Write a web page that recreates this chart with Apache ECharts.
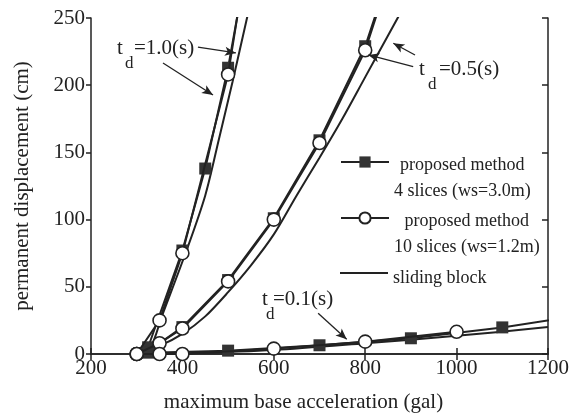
<!DOCTYPE html>
<html>
<head>
<meta charset="utf-8">
<script src="https://cdn.jsdelivr.net/npm/echarts@6/dist/echarts.min.js"></script>
<style>
  html, body { margin: 0; padding: 0; background: #fff; }
  #main { width: 580px; height: 420px; }
</style>
</head>
<body>
<div id="main"></div>
<script>
// proposed method, 4 slices (square markers), one array pair per t_d
const sq10X = [325, 400, 450, 500, 530];
const sq10Y = [5, 77, 138, 213, 270];
const sq05X = [325, 400, 500, 600, 700, 800, 840];
const sq05Y = [2, 20, 55, 101, 159, 229, 270];
const sq01X = [325, 500, 700, 900, 1100, 1250];
const sq01Y = [1, 2.5, 6.5, 11.7, 19.8, 27.6];

// proposed method, 10 slices (circle markers)
const ci10X = [300, 350, 400, 500, 530];
const ci10Y = [0, 25, 75, 208, 272];
const ci05X = [300, 350, 400, 500, 600, 700, 800, 840];
const ci05Y = [0, 8, 19, 54, 100, 157, 226, 268];
const ci01X = [300, 350, 400, 600, 800, 1000];
const ci01Y = [0, 0, 0, 4, 9.2, 16.5];

// sliding block
const sb10X = [300, 330, 355, 409, 450, 480, 510, 540, 570];
const sb10Y = [0, 5, 28, 77, 118, 160, 203, 248, 292];
const sb05X = [300, 350, 400, 450, 500, 550, 600, 650, 700, 750, 800, 850, 900];
const sb05Y = [0, 6, 15, 28, 46, 66, 89, 118, 146, 175, 206, 237, 268];
const sb01X = [300, 400, 600, 800, 1000, 1200];
const sb01Y = [0, 0.5, 3, 8, 13.5, 20];

const xTicks = [200, 400, 600, 800, 1000, 1200];
const yTicks = [0, 50, 100, 150, 200, 250];

const SQ = 'proposed method\n4 slices (ws=3.0m)';
const CI = 'proposed method\n10 slices (ws=1.2m)';
const SB = 'sliding block';

// annotation arrows, [from, to] in data units
const arrows = [
  [[434, 228.4], [517, 224]],
  [[357.5, 216.5], [467, 192.7]],
  [[909, 222.5], [861.5, 231.2]],
  [[905, 213.8], [806.8, 222.5]],
  [[697, 30.3], [759.5, 10.9]]
];

const FONT = '"Liberation Serif", "DejaVu Serif", serif';
const INK = '#222';

function pairs(xs, ys) {
  return xs.map((x, i) => [x, ys[i]]);
}

function sqSeries(xs, ys) {
  return {
    name: SQ, type: 'line', data: pairs(xs, ys),
    symbol: 'rect', symbolSize: 12, showAllSymbol: true,
    itemStyle: { color: '#333' },
    lineStyle: { color: INK, width: 2 },
    color: '#333', z: 3
  };
}
function ciSeries(xs, ys) {
  return {
    name: CI, type: 'line', data: pairs(xs, ys),
    symbol: 'circle', symbolSize: 13, showAllSymbol: true,
    itemStyle: { color: '#fff', borderColor: INK, borderWidth: 1.6 },
    lineStyle: { color: INK, width: 2 },
    z: 4
  };
}
function sbSeries(xs, ys) {
  return {
    name: SB, type: 'line', data: pairs(xs, ys),
    symbol: 'none', smooth: 0.3, color: INK,
    lineStyle: { color: INK, width: 2 },
    z: 2
  };
}

const series = [
  sbSeries(sb10X, sb10Y), sbSeries(sb05X, sb05Y), sbSeries(sb01X, sb01Y),
  sqSeries(sq10X, sq10Y), sqSeries(sq05X, sq05Y), sqSeries(sq01X, sq01Y),
  ciSeries(ci10X, ci10Y), ciSeries(ci05X, ci05Y), ciSeries(ci01X, ci01Y)
];
series[0].markLine = {
  silent: true, symbol: ['none', 'arrow'], symbolSize: [7, 11],
  label: { show: false },
  lineStyle: { color: INK, width: 1.3, type: 'solid' },
  data: arrows.map(a => [{ coord: a[0] }, { coord: a[1] }])
};

function legendBox(name, top, extra) {
  return Object.assign({
    data: [name], left: 340, top: top, padding: 0,
    itemWidth: 48, itemHeight: 14, selectedMode: false,
    formatter: n => n.split('\n').map(s => '{c|' + s + '}').join('\n'),
    textStyle: {
      fontFamily: FONT, fontSize: 18, color: INK, lineHeight: 26,
      padding: [32, 0, 0, 0],
      rich: { c: { align: 'center', fontFamily: FONT, fontSize: 18, lineHeight: 26, color: INK } }
    }
  }, extra || {});
}

function tdLabel(x, y, val, dx, ex) {
  const st = { fontFamily: FONT, fontSize: 21, fill: INK, verticalAlign: 'middle' };
  return {
    type: 'group', left: x, top: y - 12,
    children: [
      { type: 'text', x: 0, y: 12, style: Object.assign({ text: 't' }, st) },
      { type: 'text', x: dx, y: 27, style: Object.assign({}, st, { text: 'd', fontSize: 17 }) },
      { type: 'text', x: ex, y: 12, style: Object.assign({ text: '=' + val + '(s)' }, st) }
    ]
  };
}

const chart = echarts.init(document.getElementById('main'));
chart.setOption({
  animation: false,
  backgroundColor: '#fff',
  grid: { left: 91, right: 32, top: 18, bottom: 66 },
  xAxis: [{
    type: 'value', min: xTicks[0], max: xTicks[xTicks.length - 1], interval: 200,
    name: 'maximum base acceleration (gal)', nameLocation: 'middle', nameGap: 38,
    nameTextStyle: { fontFamily: FONT, fontSize: 21, color: INK, padding: [0, 32, 0, 0] },
    axisLine: { lineStyle: { color: INK, width: 1.5 } },
    axisTick: { inside: true, length: 6, lineStyle: { color: INK, width: 1.5 } },
    axisLabel: { fontFamily: FONT, fontSize: 21, color: INK, margin: 4, formatter: v => String(v) },
    splitLine: { show: false }
  }, {
    type: 'value', position: 'top', min: xTicks[0], max: xTicks[xTicks.length - 1], interval: 200,
    axisLine: { lineStyle: { color: INK, width: 1.5 } },
    axisTick: { inside: true, length: 6, lineStyle: { color: INK, width: 1.5 } },
    axisLabel: { show: false }, splitLine: { show: false }
  }],
  yAxis: [{
    type: 'value', min: yTicks[0], max: yTicks[yTicks.length - 1], interval: 50,
    name: 'permanent displacement (cm)', nameLocation: 'middle', nameGap: 58,
    nameTextStyle: { fontFamily: FONT, fontSize: 21, color: INK },
    axisLine: { show: true, lineStyle: { color: INK, width: 1.5 } },
    axisTick: { show: true, inside: false, length: 5, lineStyle: { color: INK, width: 1.5 } },
    axisLabel: { fontFamily: FONT, fontSize: 21, color: INK, margin: 6 },
    splitLine: { show: false }
  }, {
    type: 'value', position: 'right', min: yTicks[0], max: yTicks[yTicks.length - 1], interval: 50,
    axisLine: { show: true, lineStyle: { color: INK, width: 1.5 } },
    axisTick: { show: true, inside: true, length: 6, lineStyle: { color: INK, width: 1.5 } },
    axisLabel: { show: false }, splitLine: { show: false }
  }],
  legend: [
    legendBox(SQ, 120),
    legendBox(CI, 176),
    legendBox(SB, 255, {
      data: [{ name: SB, icon: 'rect' }], itemHeight: 2,
      textStyle: { fontFamily: FONT, fontSize: 18, color: INK, lineHeight: 26, padding: [10, 0, 0, 0],
        rich: { c: { fontFamily: FONT, fontSize: 18, lineHeight: 26, color: INK } } }
    })
  ],
  graphic: [
    tdLabel(117, 50, '1.0', 8, 17),
    tdLabel(419, 71, '0.5', 9, 20),
    tdLabel(262, 301, '0.1', 4, 11)
  ],
  series: series
});
</script>
</body>
</html>
